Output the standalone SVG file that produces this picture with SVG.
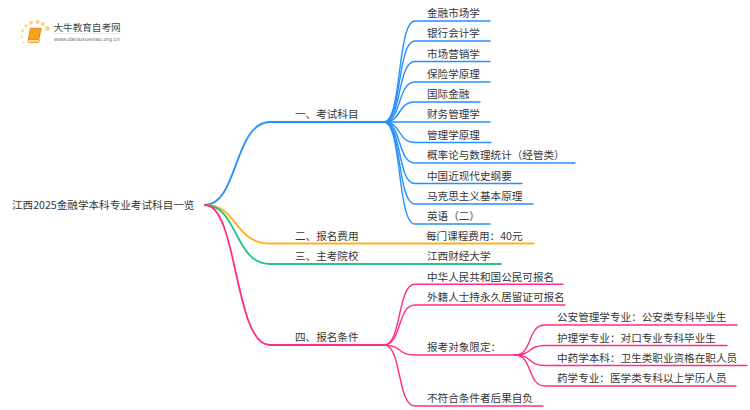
<svg xmlns="http://www.w3.org/2000/svg" width="750" height="410" viewBox="0 0 750 410">
<style>
text{font-family:"Noto Sans CJK SC","Noto Sans",sans-serif;font-size:10.6px;fill:#363636}
path{fill:none;stroke-linecap:round}
.b{stroke:#2590ff;stroke-width:1.4}
.o{stroke:#ffb01f;stroke-width:1.4}
.g{stroke:#25c684;stroke-width:1.4}
.p{stroke:#ff2c86;stroke-width:1.4}
.m{stroke-width:1.8}
</style>
<rect width="750" height="410" fill="#fff"/>
<g id="logo">
<g fill="#fbd37a"><circle cx="47.500" cy="28.500" r="2.400"/><circle cx="43" cy="24" r="2"/><circle cx="37.500" cy="22" r="2.100"/><circle cx="31" cy="22.800" r="2"/><circle cx="26" cy="25.700" r="1.500"/><circle cx="22.500" cy="30.700" r="1.300"/><circle cx="21.700" cy="36.700" r="1.100"/><circle cx="23.500" cy="42.300" r="0.900"/></g>
<path d="M30.500 28.500H41L38.500 39.500H28.500Z" style="fill:#f7a51c;stroke:#f08f1c;stroke-width:1.400;stroke-linejoin:round"/>
<path d="M28 40.500Q27.500 42.500 29.500 42.500H38.500L39.500 40" style="fill:#fde0a0;stroke:#f08f1c;stroke-width:0.900"/>
<path d="M54 33.500H120" style="stroke:#e4e4e4;stroke-width:0.800"/>
<text x="53.500" y="31" style="font-size:9.600px;fill:#444">大牛教育自考网</text>
<text x="54" y="41" style="font-size:5.800px;fill:#777;font-family:'Liberation Sans',sans-serif">www.daniuxuexiao.org.cn</text>
</g>
<g id="connectors">
<path class="b m" d="M205 205C238 205 234 122 270 122H384"/>
<path class="o m" d="M205 205C238 205 234 243.500 270 243.500H534"/>
<path class="g m" d="M205 205C238 205 234 264 270 264H501"/>
<path class="p m" d="M205 205C238 205 234 345 270 345H384"/>
<path class="b" d="M384 122C402 122 397 21 415 21H490"/>
<path class="b" d="M384 122C402 122 397 41 415 41H490"/>
<path class="b" d="M384 122C402 122 397 61.500 415 61.500H490"/>
<path class="b" d="M384 122C402 122 397 82 415 82H490"/>
<path class="b" d="M384 122C402 122 397 102 415 102H480"/>
<path class="b" d="M384 122H490"/>
<path class="b" d="M384 122C402 122 397 142.500 415 142.500H491"/>
<path class="b" d="M384 122C402 122 397 163 415 163H575"/>
<path class="b" d="M384 122C402 122 397 183.500 415 183.500H522"/>
<path class="b" d="M384 122C402 122 397 204 415 204H533"/>
<path class="b" d="M384 122C402 122 397 224 415 224H490"/>
<path class="p" d="M384 345C402 345 397 284.300 415 284.300H563"/>
<path class="p" d="M384 345C402 345 397 305 415 305H565"/>
<path class="p" d="M384 345C402 345 397 355 415 355H515"/>
<path class="p" d="M384 345C402 345 397 406 415 406H543"/>
<path class="p" d="M515 355C533 355 527 325 545 325H737"/>
<path class="p" d="M515 355C533 355 527 345.500 545 345.500H727"/>
<path class="p" d="M515 355C533 355 527 365.500 545 365.500H747"/>
<path class="p" d="M515 355C533 355 527 386 545 386H736"/>
</g>
<g id="root"><text x="12" y="209">江西2025金融学本科专业考试科目一览</text></g>
<g id="n1"><text x="295" y="118">一、考试科目</text></g>
<g id="n2"><text x="295" y="239.500">二、报名费用</text></g>
<g id="n3"><text x="295" y="260">三、主考院校</text></g>
<g id="n4"><text x="295" y="341">四、报名条件</text></g>
<g id="c1"><text x="427" y="17">金融市场学</text></g>
<g id="c2"><text x="427" y="37">银行会计学</text></g>
<g id="c3"><text x="427" y="57.500">市场营销学</text></g>
<g id="c4"><text x="427" y="78">保险学原理</text></g>
<g id="c5"><text x="427" y="98">国际金融</text></g>
<g id="c6"><text x="427" y="118">财务管理学</text></g>
<g id="c7"><text x="427" y="138.500">管理学原理</text></g>
<g id="c8"><text x="427" y="159">概率论与数理统计（经管类）</text></g>
<g id="c9"><text x="427" y="179.500">中国近现代史纲要</text></g>
<g id="c10"><text x="427" y="200">马克思主义基本原理</text></g>
<g id="c11"><text x="427" y="220">英语（二）</text></g>
<g id="f1"><text x="426" y="239.500">每门课程费用：40元</text></g>
<g id="s1"><text x="427" y="260">江西财经大学</text></g>
<g id="r1"><text x="427" y="280.500">中华人民共和国公民可报名</text></g>
<g id="r2"><text x="427" y="301">外籍人士持永久居留证可报名</text></g>
<g id="r3"><text x="427" y="351">报考对象限定：</text></g>
<g id="r4"><text x="427" y="402">不符合条件者后果自负</text></g>
<g id="t1"><text x="557" y="321">公安管理学专业：公安类专科毕业生</text></g>
<g id="t2"><text x="557" y="341.500">护理学专业：对口专业专科毕业生</text></g>
<g id="t3"><text x="557" y="361.500">中药学本科：卫生类职业资格在职人员</text></g>
<g id="t4"><text x="557" y="382">药学专业：医学类专科以上学历人员</text></g>
</svg>
